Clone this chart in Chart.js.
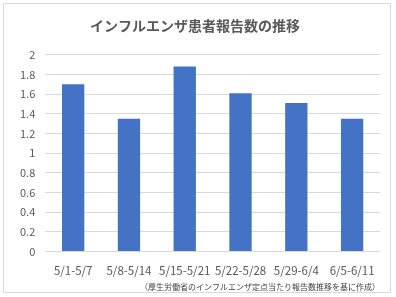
<!DOCTYPE html>
<html>
<head>
<meta charset="utf-8">
<script src="https://cdn.jsdelivr.net/npm/chart.js@4"></script>
<style>
  body { margin: 0; background: #fff; }
  #wrap { position: relative; width: 396px; height: 297px; }
  #frame { position: absolute; left: 3px; top: 3px; width: 386px; height: 288px; border: 1px solid #d9d9d9; pointer-events: none; }
</style>
</head>
<body>
<div id="wrap">
  <canvas id="chart" width="396" height="297"></canvas>
  <div id="frame"></div>
</div>
<script>
const weeks = ["5/1-5/7", "5/8-5/14", "5/15-5/21", "5/22-5/28", "5/29-6/4", "6/5-6/11"];
const reports = [1.70, 1.35, 1.88, 1.61, 1.51, 1.35];
const yTicks = [0, 0.2, 0.4, 0.6, 0.8, 1, 1.2, 1.4, 1.6, 1.8, 2];

const jpFont = "'Noto Sans CJK JP', 'Noto Sans', sans-serif";

const ctx = document.getElementById("chart").getContext("2d");
new Chart(ctx, {
  type: "bar",
  data: {
    labels: weeks,
    datasets: [
      {
        data: reports,
        backgroundColor: "#4472c4",
        barPercentage: 0.4,
        categoryPercentage: 1,
      },
    ],
  },
  options: {
    responsive: false,
    animation: false,
    layout: { padding: { left: 10, right: 16, top: 12, bottom: 5 } },
    plugins: {
      legend: { display: false },
      tooltip: { enabled: false },
      title: {
        display: true,
        text: "インフルエンザ患者報告数の推移",
        color: "#595959",
        font: { family: jpFont, size: 14, weight: "bold" },
        padding: { top: 5, bottom: 21 },
      },
      subtitle: {
        display: true,
        position: "bottom",
        align: "end",
        text: "（厚生労働省のインフルエンザ定点当たり報告数推移を基に作成）",
        color: "#404040",
        font: { family: jpFont, size: 8 },
        padding: { top: 1, bottom: 0 },
      },
    },
    scales: {
      x: {
        grid: { display: false },
        border: { display: false },
        ticks: {
          color: "#595959",
          font: { family: jpFont, size: 11.5 },
          maxRotation: 0,
          autoSkip: false,
          padding: 4,
        },
      },
      y: {
        min: 0,
        max: 2,
        afterBuildTicks: (axis) => {
          axis.ticks = yTicks.map((v) => ({ value: v }));
        },
        grid: { color: "#d9d9d9", drawTicks: false },
        border: { display: false },
        ticks: {
          color: "#595959",
          font: { family: jpFont, size: 11 },
          padding: 10,
          callback: (v) => String(Math.round(v * 10) / 10),
        },
      },
    },
  },
});
</script>
</body>
</html>
